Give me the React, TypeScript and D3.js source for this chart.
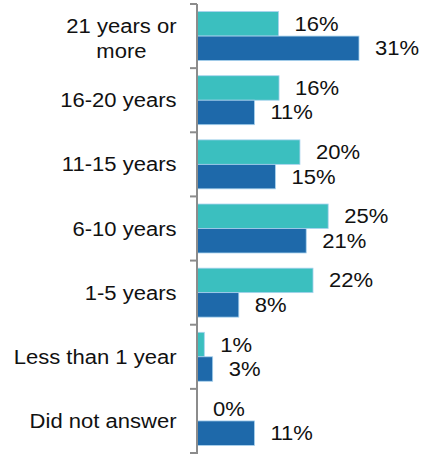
import React, { useEffect, useRef } from "react";
import * as d3 from "d3";

const categories = [
  "21 years or\nmore",
  "16-20 years",
  "11-15 years",
  "6-10 years",
  "1-5 years",
  "Less than 1 year",
  "Did not answer",
];
const seriesNames = ["Series A", "Series B"];
const seriesA = [15.6, 15.7, 19.7, 25.1, 22.2, 1.4, 0];
const seriesB = [31.0, 11.0, 15.0, 20.9, 8.0, 3.0, 11.0];
const valueLabelsA = ["16%", "16%", "20%", "25%", "22%", "1%", "0%"];
const valueLabelsB = ["31%", "11%", "15%", "21%", "8%", "3%", "11%"];
const colors = ["#3bbfbf", "#1e69aa"];

const W = 422;
const H = 454;
const FONT = "'Liberation Sans', Arial, sans-serif";
const FS = 19.5;
const SX = 1.13;

export default function App() {
  const ref = useRef<SVGSVGElement | null>(null);

  useEffect(() => {
    const svg = d3.select(ref.current);
    svg.selectAll("*").remove();

    const axisX = 197;
    const y = d3.scaleBand<string>().domain(categories).range([4, 453]).paddingInner(0).paddingOuter(0);
    const ySub = d3.scaleBand<string>().domain(seriesNames).range([0, y.bandwidth()]).paddingInner(0).paddingOuter(0.31);
    const x = d3.scaleLinear().domain([0, 31]).range([axisX, 359]);

    const data = categories.map((c, i) => ({
      cat: c,
      vals: [
        { s: seriesNames[0], v: seriesA[i], label: valueLabelsA[i], color: colors[0] },
        { s: seriesNames[1], v: seriesB[i], label: valueLabelsB[i], color: colors[1] },
      ],
    }));

    const groups = svg.selectAll("g.grp").data(data).enter().append("g").attr("class", "grp")
      .attr("transform", (d) => `translate(0,${y(d.cat)})`);

    groups.selectAll("rect").data((d) => d.vals).enter().append("rect")
      .attr("x", axisX)
      .attr("y", (d) => ySub(d.s)!)
      .attr("width", (d) => x(d.v) - axisX)
      .attr("height", ySub.bandwidth())
      .attr("fill", (d) => d.color)
      .attr("stroke", (d) => (d.v > 0 ? "#a8d2ee" : "none"))
      .attr("stroke-width", 0.8);

    groups.selectAll("text.val").data((d) => d.vals).enter().append("text")
      .attr("class", "val")
      .attr("transform", (d) => `translate(${x(d.v) + 16},${ySub(d.s)! + ySub.bandwidth() / 2 + 7}) scale(${SX},1)`)
      .attr("font-family", FONT)
      .attr("font-size", FS)
      .attr("fill", "#111")
      .text((d) => d.label);

    // axis line and ticks
    const ticks = d3.range(categories.length + 1).map((i) => 4 + i * y.step());
    svg.append("line").attr("x1", axisX).attr("x2", axisX).attr("y1", 4).attr("y2", H)
      .attr("stroke", "#8c8c8c").attr("stroke-width", 2);
    svg.selectAll("line.tick").data(ticks).enter().append("line").attr("class", "tick")
      .attr("x1", 190).attr("x2", axisX).attr("y1", (d) => d).attr("y2", (d) => d)
      .attr("stroke", "#8c8c8c").attr("stroke-width", 2);

    // category labels
    const right = 176.5;
    categories.forEach((c) => {
      const lines = c.split("\n");
      const n = lines.length;
      const center = y(c)! + y.bandwidth() / 2;
      const g = svg.append("g");
      const texts = lines.map((ln, i) => {
        const by = center + 7 + (i - (n - 1) / 2) * 25 + (n > 1 ? 2.7 : 0);
        return g.append("text")
          .attr("font-family", FONT)
          .attr("font-size", FS)
          .attr("fill", "#111")
          .attr("data-y", by)
          .text(ln);
      });
      if (n === 1) {
        texts[0].attr("text-anchor", "end").attr("transform", `translate(${right},${+texts[0].attr("data-y")}) scale(${SX},1)`);
      } else {
        const widths = texts.map((t) => (t.node() as SVGTextElement).getComputedTextLength());
        const maxW = d3.max(widths)! * SX;
        const cx = right - maxW / 2;
        texts.forEach((t) => {
          t.attr("text-anchor", "middle").attr("transform", `translate(${cx},${+t.attr("data-y")}) scale(${SX},1)`);
        });
      }
    });
  }, []);

  return (
    <svg
      ref={ref}
      width={W}
      height={H}
      style={{ position: "absolute", left: 0, top: 0, background: "#fff" }}
    />
  );
}
